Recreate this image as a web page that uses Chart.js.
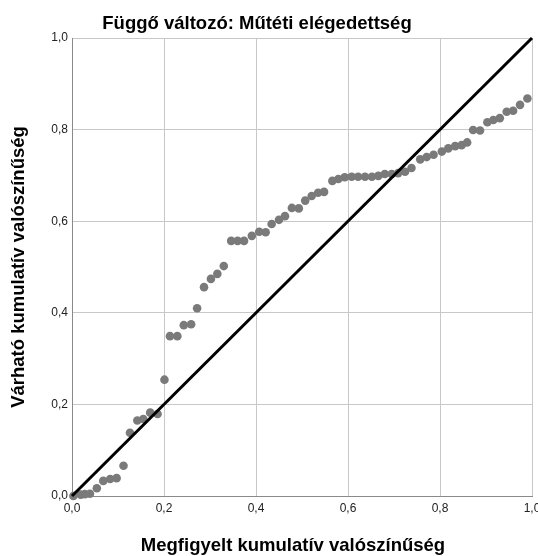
<!DOCTYPE html>
<html><head><meta charset="utf-8">
<script src="https://cdn.jsdelivr.net/npm/chart.js@4/dist/chart.umd.min.js"></script>
<style>html,body{margin:0;padding:0;background:#fff}#wrap{width:538px;height:556px;position:relative}</style>
</head><body><div id="wrap"><canvas id="c" width="538" height="556"></canvas></div>
<script>
const chartTitle = "Függő változó: Műtéti elégedettség";
const xTitle = "Megfigyelt kumulatív valószínűség";
const yTitle = "Várható kumulatív valószínűség";
const tickValues = [0, 0.2, 0.4, 0.6, 0.8, 1.0];
const observed = [0.003,0.019,0.028,0.039,0.054,0.068,0.083,0.097,0.112,0.126,0.142,0.155,0.170,0.186,0.201,
 0.213,0.229,0.243,0.259,0.272,0.287,0.302,0.316,0.330,0.346,0.360,0.374,0.391,0.407,0.421,0.434,0.450,0.463,0.478,0.493,0.507,0.521,0.535,0.548,
 0.566,0.579,0.593,0.608,0.622,0.637,0.652,0.666,0.680,0.695,0.709,0.724,0.738,
 0.757,0.771,0.786,0.804,0.818,0.833,0.847,0.859,0.872,0.887,0.903,0.916,0.930,0.945,0.959,0.974,0.990];
const expected = [0.000,0.003,0.004,0.005,0.017,0.033,0.037,0.039,0.066,0.138,0.165,0.168,0.182,0.179,0.254,
 0.349,0.349,0.373,0.375,0.410,0.456,0.474,0.485,0.502,0.557,0.557,0.557,0.568,0.577,0.576,0.594,0.603,0.611,0.629,0.628,0.645,0.655,0.662,0.664,
 0.688,0.692,0.696,0.697,0.697,0.697,0.697,0.699,0.703,0.703,0.705,0.708,0.716,
 0.735,0.740,0.745,0.752,0.759,0.764,0.766,0.772,0.799,0.798,0.816,0.821,0.825,0.839,0.841,0.854,0.868];
const refLine = [0, 1];

const FONT = "'Liberation Sans', Arial, sans-serif";
const fmt = v => Number(v).toFixed(1).replace('.', ',');

const titlePlugin = {
  id: 'ttl',
  afterDraw(chart) {
    const ctx = chart.ctx;
    const a = chart.chartArea;
    ctx.save();
    ctx.fillStyle = '#000';
    ctx.font = "bold 18.5px " + FONT;
    ctx.textAlign = 'center';
    ctx.textBaseline = 'middle';
    ctx.fillText(chartTitle, 257, 24);
    ctx.fillText(xTitle, 293, 546);
    ctx.translate(19, (a.top + a.bottom) / 2);
    ctx.rotate(-Math.PI / 2);
    ctx.fillText(yTitle, 0, 0);
    ctx.restore();
  }
};

new Chart(document.getElementById('c'), {
  type: 'scatter',
  data: {
    datasets: [
      {
        type: 'line',
        data: refLine.map(v => ({x: v, y: v})),
        borderColor: '#000',
        borderWidth: 3,
        pointRadius: 0,
        fill: false,
        order: 0,
        clip: false
      },
      {
        data: observed.map((v, i) => ({x: v, y: expected[i]})),
        backgroundColor: 'rgb(122,122,122)',
        borderColor: 'rgb(122,122,122)',
        borderWidth: 0,
        pointRadius: 4.3,
        order: 1,
        clip: false
      }
    ]
  },
  options: {
    responsive: false,
    animation: false,
    devicePixelRatio: 1,
    layout: {padding: {top: 38, right: 6, left: 0, bottom: 0}},
    plugins: {legend: {display: false}, tooltip: {enabled: false}},
    scales: {
      x: {
        type: 'linear', min: 0, max: 1,
        afterBuildTicks: s => { s.ticks = tickValues.map(v => ({value: v})); },
        afterFit: s => { s.height = 60; s.paddingRight = 0; s.paddingLeft = 0; },
        grid: {color: '#c8c8c8', lineWidth: 1, drawTicks: false},
        border: {color: '#8a8a8a', width: 1},
        ticks: {callback: fmt, color: '#222', font: {family: FONT, size: 12}, padding: 5, maxRotation: 0}
      },
      y: {
        type: 'linear', min: 0, max: 1,
        afterBuildTicks: s => { s.ticks = tickValues.map(v => ({value: v})); },
        afterFit: s => { s.width = 72; s.paddingTop = 0; s.paddingBottom = 0; },
        grid: {color: '#c8c8c8', lineWidth: 1, drawTicks: false},
        border: {color: '#8a8a8a', width: 1},
        ticks: {callback: fmt, color: '#222', font: {family: FONT, size: 12}, padding: 4}
      }
    }
  },
  plugins: [titlePlugin]
});
</script></body></html>
